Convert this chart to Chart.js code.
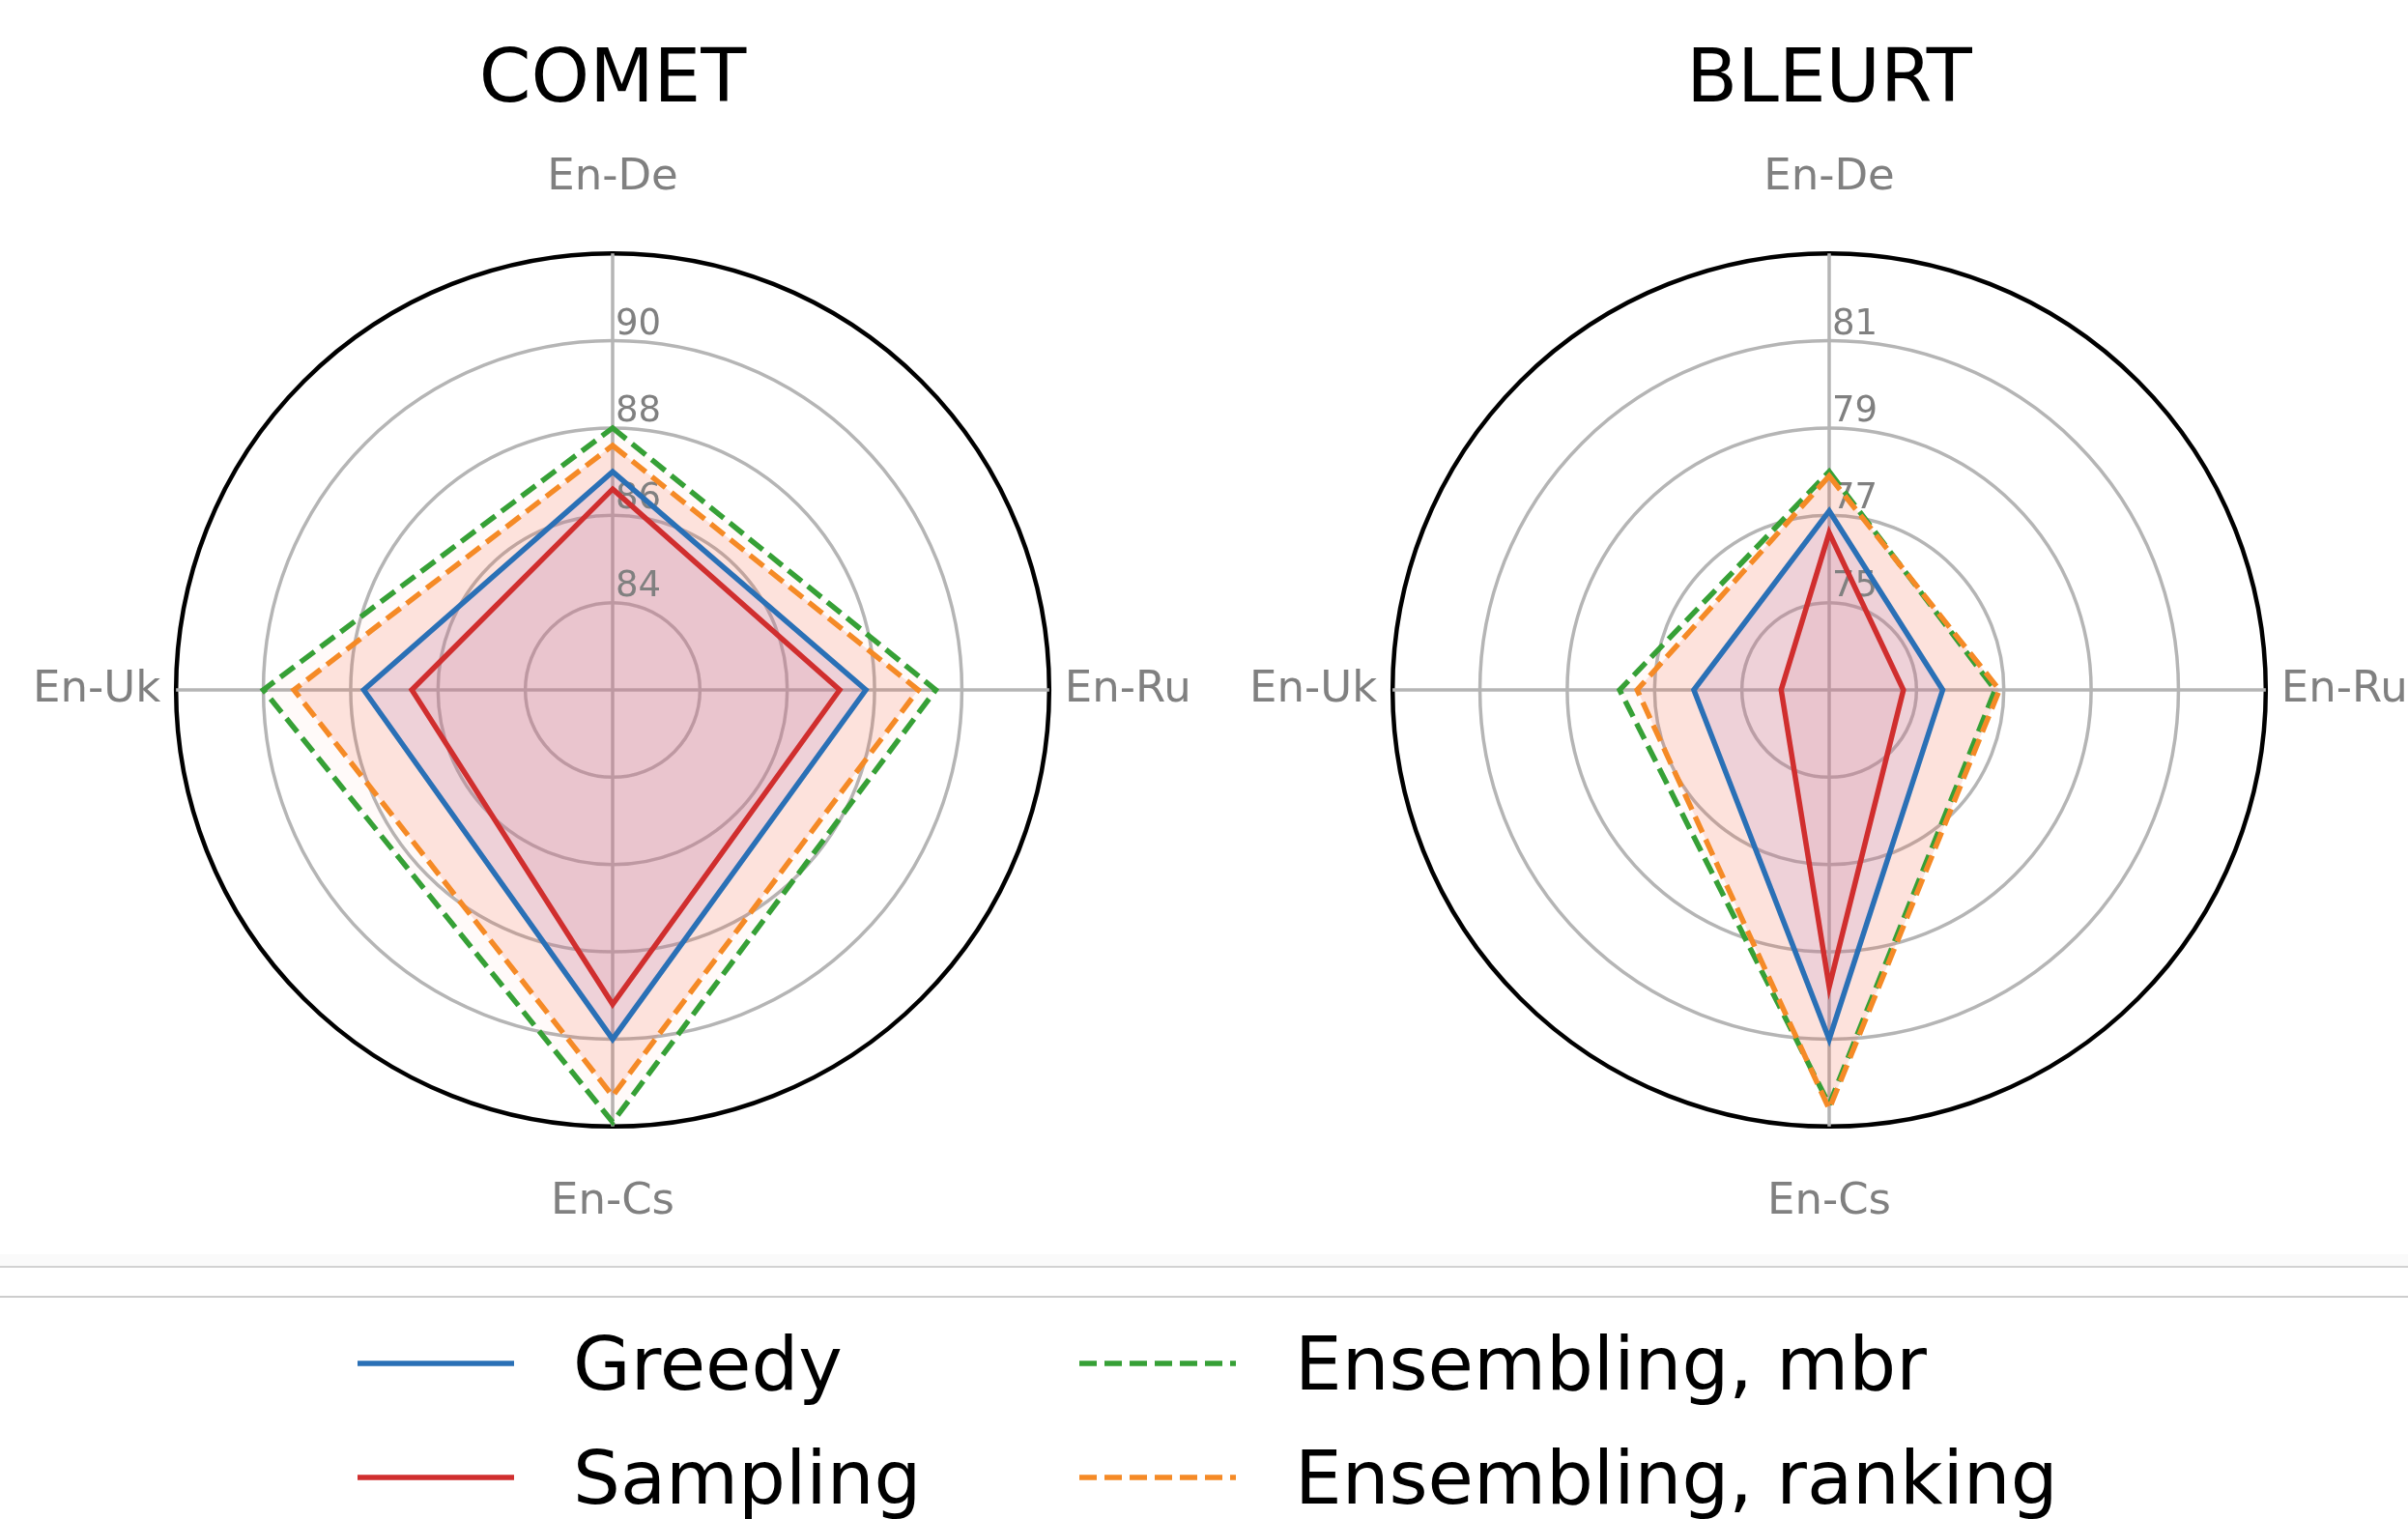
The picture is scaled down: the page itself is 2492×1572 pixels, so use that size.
<!DOCTYPE html>
<html>
<head>
<meta charset="utf-8">
<script src="https://cdn.jsdelivr.net/npm/chart.js@4.4.1/dist/chart.umd.min.js"></script>
<style>
  html, body { margin:0; padding:0; background:#fff; }
  body { width:2492px; height:1572px; position:relative; overflow:hidden; font-family:"DejaVu Sans", sans-serif; }
  .box { position:absolute; top:0; width:1200px; height:1274px; }
  .sep { position:absolute; left:0; width:2492px; }
  .leg { position:absolute; height:92px; display:flex; align-items:center; font-size:77px; color:#000; white-space:nowrap; }
  .leg svg { margin-right:61px; }
</style>
</head>
<body>
<div class="box" style="left:34px"><canvas id="comet"></canvas></div>
<div class="box" style="left:1293px"><canvas id="bleurt"></canvas></div>
<div class="sep" style="top:1298px;height:12px;background:#fafafa"></div>
<div class="sep" style="top:1310px;height:2px;background:#d2d2d2"></div>
<div class="sep" style="top:1341px;height:2px;background:#cdcdcd"></div>
<div id="legend"></div>
<script>
// ---- data ----
const categories = ['En-De', 'En-Ru', 'En-Cs', 'En-Uk'];
const seriesNames = ['Greedy', 'Sampling', 'Ensembling, mbr', 'Ensembling, ranking'];

const cometGreedy   = [87.0, 87.8, 90.0, 87.7];
const cometSampling = [86.6, 87.2, 89.2, 86.6];
const cometMbr      = [88.0, 89.4, 91.9, 90.0];
const cometRanking  = [87.6, 89.0, 91.3, 89.3];
const cometTicks = [84, 86, 88, 90];

const bleurtGreedy   = [77.1, 75.6, 81.0, 76.1];
const bleurtSampling = [76.6, 74.7, 79.8, 74.1];
const bleurtMbr      = [78.0, 76.8, 82.5, 77.8];
const bleurtRanking  = [77.9, 76.9, 82.6, 77.4];
const bleurtTicks = [75, 77, 79, 81];

// ---- styles ----
const lineColors = ['#2a70b6', '#d02e2e', '#36a036', '#f58a26'];
const fillColors = ['rgba(150,140,230,0.18)', 'rgba(220,120,140,0.13)', 'rgba(240,100,70,0.03)', 'rgba(240,100,70,0.16)'];
const dashes = [[], [], [18, 8], [18, 8]];
const GRID = '#b5b5b5';

Chart.defaults.font.family = '"DejaVu Sans", sans-serif';

const rTicks = {
  id: 'rTicks',
  beforeDatasetsDraw(chart, args, opts) {
    const s = chart.scales.r, c = chart.ctx;
    c.save();
    c.font = '37px "DejaVu Sans"';
    c.fillStyle = '#808080';
    c.textAlign = 'left';
    c.textBaseline = 'alphabetic';
    opts.values.forEach(v => {
      const d = s.getDistanceFromCenterForValue(v);
      c.fillText(String(v), s.xCenter + 3, s.yCenter - d - 7);
    });
    c.restore();
  }
};

function makeRadar(id, title, series, ticks, min, max) {
  // draw order: ranking fill at the bottom, greedy/sampling lines on top
  const drawOrder = [2, 3, 1, 0];
  const datasets = series.map((vals, i) => ({
    label: seriesNames[i],
    data: vals,
    borderColor: lineColors[i],
    backgroundColor: fillColors[i],
    borderWidth: 5.5,
    borderDash: dashes[i],
    borderJoinStyle: 'miter',
    fill: true,
    pointRadius: 0,
    order: drawOrder[i]
  }));
  return new Chart(document.getElementById(id), {
    type: 'radar',
    data: { labels: categories, datasets },
    plugins: [rTicks],
    options: {
      responsive: true,
      maintainAspectRatio: false,
      animation: false,
      layout: { padding: 0 },
      plugins: {
        legend: { display: false },
        tooltip: { enabled: false },
        filler: { drawTime: 'beforeDatasetsDraw' },
        title: {
          display: true, text: title, color: '#000',
          font: { size: 77, weight: 'normal' },
          padding: { top: 39, bottom: 24 }
        },
        rTicks: { values: ticks }
      },
      scales: {
        r: {
          min, max,
          ticks: { display: false, stepSize: 2 },
          grid: {
            circular: true,
            color: c => (c.tick && c.tick.value === max) ? '#000' : GRID,
            lineWidth: c => (c.tick && c.tick.value === max) ? 4.5 : 3.5
          },
          angleLines: { color: GRID, lineWidth: 3.5 },
          pointLabels: {
            color: '#808080',
            font: { size: 45 },
            padding: c => (c.index % 2 === 0 ? 51 : 16)
          }
        }
      }
    }
  });
}

makeRadar('comet', 'COMET', [cometGreedy, cometSampling, cometMbr, cometRanking], cometTicks, 82, 92);
makeRadar('bleurt', 'BLEURT', [bleurtGreedy, bleurtSampling, bleurtMbr, bleurtRanking], bleurtTicks, 73, 83);

// ---- legend (two columns) ----
const legPos = [[370, 1365], [370, 1483], [1117, 1365], [1117, 1483]];
const legend = document.getElementById('legend');
seriesNames.forEach((name, i) => {
  const d = document.createElement('div');
  d.className = 'leg';
  d.style.left = legPos[i][0] + 'px';
  d.style.top = legPos[i][1] + 'px';
  const dash = dashes[i].length ? `stroke-dasharray="${dashes[i].join(',')}"` : '';
  d.innerHTML = `<svg width="162" height="10"><line x1="0" y1="5" x2="162" y2="5" stroke="${lineColors[i]}" stroke-width="5.5" ${dash}/></svg><span>${name}</span>`;
  legend.appendChild(d);
});
</script>
</body>
</html>
